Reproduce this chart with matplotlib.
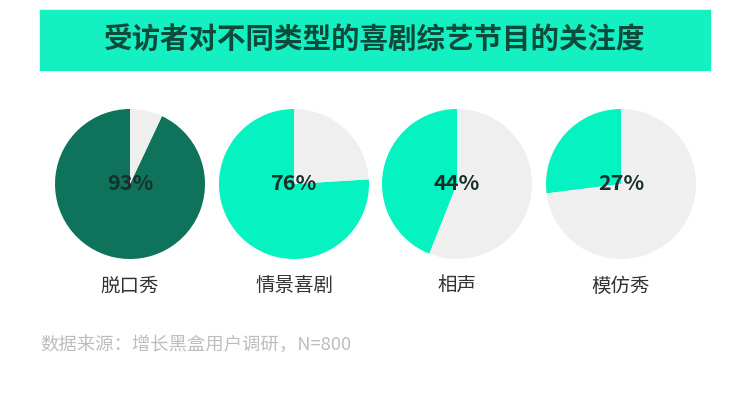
import matplotlib
matplotlib.use('Agg')
from matplotlib import pyplot as plt
from matplotlib.patches import Rectangle

plt.rcParams['font.family'] = ['Noto Sans CJK SC', 'DejaVu Sans']

# data
title = '受访者对不同类型的喜剧综艺节目的关注度'
categories = ['脱口秀', '情景喜剧', '相声', '模仿秀']
shares = [93, 76, 44, 27]
source = '数据来源：增长黑盒用户调研，N=800'

W, H = 750, 416
fig = plt.figure(figsize=(W / 100, H / 100), dpi=100)
fig.patch.set_facecolor('white')

# title banner
fig.patches.append(Rectangle((40 / W, 1 - 70 / H), 670 / W, 60 / H,
                             transform=fig.transFigure, color='#14F0C2', zorder=0))
fig.text(375 / W, 1 - 41 / H, title, ha='center', va='center',
         fontsize=20.5, fontweight='bold', color='#0D4A3A')

bright = '#05F2C1'
dark = '#0E735A'
grey = '#EFEFEF'

centers = [130, 294, 457, 621]
cy, r = 184, 75
for i, (cat, v) in enumerate(zip(categories, shares)):
    cx = centers[i]
    ax = fig.add_axes([(cx - r) / W, 1 - (cy + r) / H, 2 * r / W, 2 * r / H])
    col = dark if i == 0 else bright
    ax.pie([v, 100 - v], colors=[col, grey], startangle=90, counterclock=True,
           wedgeprops=dict(linewidth=0))
    ax.set_aspect('equal')
    ax.set_xlim(-1, 1)
    ax.set_ylim(-1, 1)
    ax.axis('off')
    ax.text(0, 0, f'{v}%', ha='center', va='center', fontsize=15.5,
            fontweight='bold', color='#17302A')
    fig.text(cx / W, 1 - 286 / H, cat, ha='center', va='center',
             fontsize=14, color='#333333')

fig.text(40 / W, 1 - 346 / H, source, ha='left', va='center',
         fontsize=13.2, color='#BDBDBD')

fig.savefig('out.png', dpi=100)
